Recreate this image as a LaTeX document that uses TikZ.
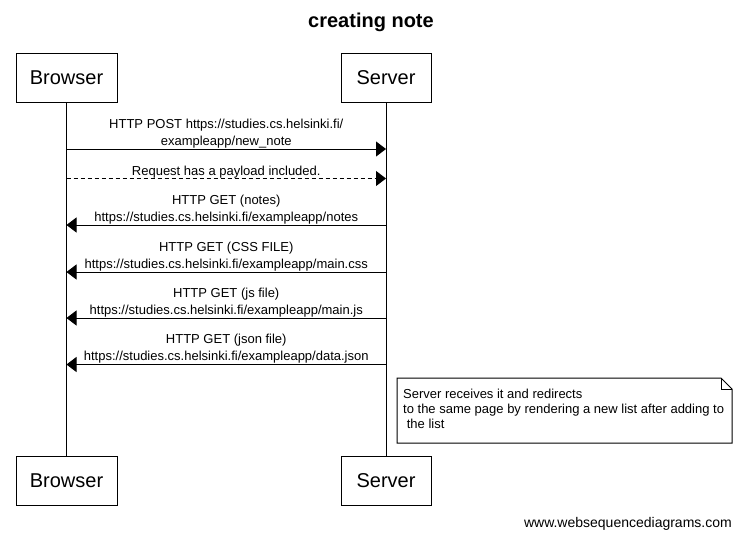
\documentclass[tikz,border=0pt]{standalone}
\usepackage{fontspec}
\setmainfont{Liberation Sans}
\usetikzlibrary{arrows.meta,positioning,calc}
\definecolor{ink}{HTML}{000000}
\definecolor{paper}{HTML}{FFFFFF}
\tikzset{
  actor/.style={draw=ink, fill=paper, line width=1pt, minimum height=49pt,
                inner sep=0pt, font=\fontsize{20}{24}\selectfont},
  lifeline/.style={draw=ink, line width=1pt},
  msg/.style={-{Triangle[length=10pt,width=15pt]}, line width=1pt, draw=ink},
  reply/.style={msg, dash pattern=on 4pt off 3pt},
  msgtext/.style={font=\fontsize{13}{17}\selectfont, align=center, inner sep=0.5pt,
                  anchor=south, text=ink},
  notetext/.style={font=\fontsize{13}{15}\selectfont, align=left, inner sep=0pt,
                   anchor=north west, text=ink}
}

\begin{document}
\begin{tikzpicture}[x=1pt,y=-1pt]
  \useasboundingbox[fill=paper] (0,0) rectangle (741,539);

  \node[font=\bfseries\fontsize{20}{24}\selectfont] (title) at (371,22) {creating note};

  % participants, top and bottom
  \node[actor,minimum width=101pt] (brTop) at (66.5,77.5) {Browser};
  \node[actor,minimum width=90pt] (svTop) at (386,77.5) {Server};
  \node[actor,minimum width=101pt] (brBot) at (66.5,480.5) {Browser};
  \node[actor,minimum width=90pt] (svBot) at (386,480.5) {Server};
  \draw[lifeline] (brTop.south) -- (brBot.north);
  \draw[lifeline] (svTop.south) -- (svBot.north);

  % browser -> server
  \coordinate (b1) at (brTop.south |- 0,149);
  \coordinate (s1) at (svTop.south |- 0,149);
  \draw[msg] (b1) -- (s1)
    node[msgtext,midway] {HTTP POST https://studies.cs.helsinki.fi/\\exampleapp/new\_note};
  \coordinate (b2) at (brTop.south |- 0,178.5);
  \coordinate (s2) at (svTop.south |- 0,178.5);
  \draw[reply] (b2) -- (s2)
    node[msgtext,midway,inner sep=0pt] {Request has a payload included.};

  % server -> browser
  \foreach \i/\y/\what/\file in {3/225/notes/notes, 4/272/CSS FILE/main.css,
                                 5/318/js file/main.js, 6/364.5/json file/data.json}{
    \coordinate (s\i) at (svTop.south |- 0,\y);
    \coordinate (b\i) at (brTop.south |- 0,\y);
    \draw[msg] (s\i) -- (b\i)
      node[msgtext,midway] {HTTP GET (\what)\\https://studies.cs.helsinki.fi/exampleapp/\file};
  }

  % note on the right of the server
  \draw[draw=ink, fill=paper, line width=1pt]
    (397,378) -- (721,378) -- (732,389) -- (732,443) -- (397,443) -- cycle;
  \draw[draw=ink, line width=1pt] (721,378) -- (721,389) -- (732,389);
  \node[notetext] (note) at (403,388.5)
    {Server receives it and redirects\\to the same page by rendering a new list after adding to\\\hspace*{0.28em}the list};

  \node[font=\fontsize{14}{16}\selectfont, anchor=east, inner sep=0pt] (credit) at (732,524)
    {www.websequencediagrams.com};
\end{tikzpicture}
\end{document}
